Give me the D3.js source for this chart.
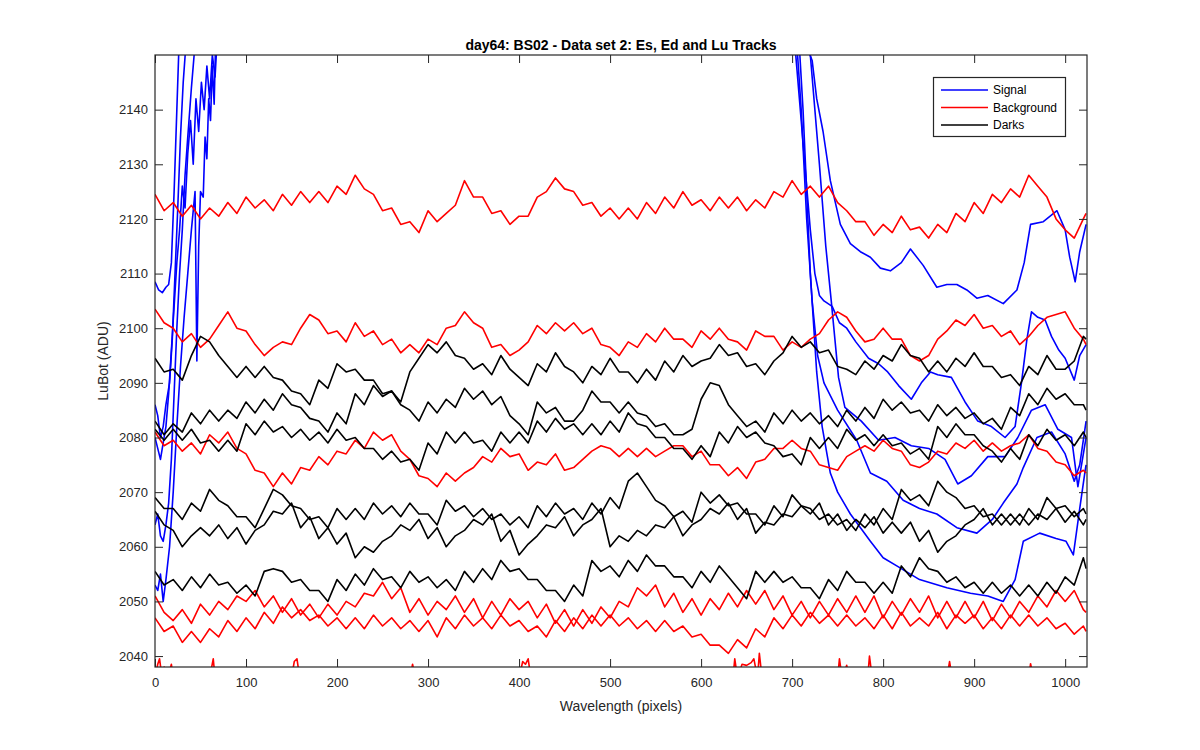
<!DOCTYPE html>
<html><head><meta charset="utf-8">
<script src="https://cdn.jsdelivr.net/npm/d3@7"></script>
<style>
body{margin:0;background:#fff}
svg{display:block}
text{font-family:"Liberation Sans",Arial,Helvetica,sans-serif;fill:#262626}
</style>
</head><body>
<svg id="chart" width="1200" height="750"></svg>
<script>
// ---------- data ----------
const titleText = "day64: BS02 - Data set 2: Es, Ed and Lu Tracks";
const xLabelText = "Wavelength (pixels)";
const yLabelText = "LuBot (ADU)";
const legendNames = ["Signal", "Background", "Darks"];
const legendColors = ["#0000ff", "#ff0000", "#000000"];
const xTicks = [0,100,200,300,400,500,600,700,800,900,1000];
const yTicks = [2040,2050,2060,2070,2080,2090,2100,2110,2120,2130,2140];

// sample positions (pixel index) for background and dark tracks
const pixelIdx = [0,10,20,30,40,50,60,70,80,90,100,110,120,130,140,150,160,170,180,190,
 200,210,220,230,240,250,260,270,280,290,300,310,320,330,340,350,360,370,380,390,
 400,410,420,430,440,450,460,470,480,490,500,510,520,530,540,550,560,570,580,590,
 600,610,620,630,640,650,660,670,680,690,700,710,720,730,740,750,760,770,780,790,
 800,810,820,830,840,850,860,870,880,890,900,910,920,930,940,950,960,970,980,990,
 1000,1010,1020,1023];

// Background tracks
const bg1 = [2124.5,2121.5,2123,2120.5,2122.5,2120,2122,2120.5,2123,2121,
 2124,2122,2123.5,2121.5,2124.5,2122.5,2125,2123,2125,2123,
 2126,2124.5,2128,2125.5,2124.5,2121.5,2122,2119,2119.5,2117.5,
 2121.5,2119.5,2121,2122.5,2127,2124,2124,2121,2121.5,2119,
 2120.5,2120.5,2124,2125,2127.5,2125.5,2125,2122.5,2123,2120.5,
 2122,2120,2122,2120,2123,2121,2124,2122,2125,2122.5,
 2123.5,2121.5,2124,2122,2124,2121.5,2123.5,2122,2125,2124,
 2127,2124.5,2126,2124,2126,2123,2121.5,2119.5,2119.5,2117,
 2119,2117.5,2120.5,2118,2118.5,2116.5,2119,2117.5,2121,2119.5,
 2123,2121,2124.5,2123,2125.5,2124,2128,2126,2124,2120,
 2118,2116.5,2120,2121];
const bg2 = [2103.5,2101,2100,2097.5,2099,2096.5,2098,2100.5,2103,2100,
 2099.5,2097,2095,2096.5,2097.5,2097,2100,2102.5,2101.5,2099,
 2099.5,2097.5,2101,2098.5,2099.5,2097,2098,2095.5,2097,2095.5,
 2098,2097,2100,2100.5,2103,2101,2100,2096.5,2097,2095,
 2096,2097.5,2100.5,2099,2101,2099.5,2101,2099,2100,2097,
 2096.5,2095,2097.5,2096.5,2099,2097.5,2100,2098,2098,2096.5,
 2099.5,2098,2100,2098,2097.5,2096,2099.5,2098.5,2098.5,2096,
 2097.5,2096.5,2098,2099,2101.5,2103,2102,2099.5,2097.5,2098,
 2100,2098,2098,2095,2094,2095,2098,2099.5,2101.5,2100.5,
 2102.5,2100,2100.5,2098.5,2099.5,2097,2098.5,2100.5,2102,2102.5,
 2103,2100,2098,2097];
const bg3 = [2081,2078.5,2079.5,2077.5,2079,2077,2080.5,2079,2081,2078,
 2077,2074,2073.5,2071,2073.5,2071.5,2074.5,2074,2076.5,2075,
 2077.5,2077,2079.5,2078,2081,2079.5,2080.5,2077.5,2076,2073,
 2072.5,2071,2073.5,2072,2073.5,2074.5,2076.5,2075.5,2078,2076.5,
 2077,2074,2075.5,2075,2077,2074,2074.5,2076,2077.5,2078.5,
 2078,2076.5,2078,2076.5,2078,2076.5,2077.5,2078.5,2078.5,2076.5,
 2077.5,2075,2075,2073,2074.5,2072.5,2075.5,2076,2078,2078,
 2079.5,2078,2077.5,2075,2074.5,2074,2076.5,2077.5,2078.5,2077.5,
 2079.5,2078,2077.5,2075,2074.5,2075.5,2077.5,2077,2079,2078,
 2079.5,2077.5,2079,2077.5,2078.5,2079,2080.5,2078,2077.5,2075.5,
 2075,2073,2074,2073.5];
const bg4 = [2051,2048,2046.5,2048.5,2046,2049.5,2047.5,2050,2048.5,2051,
 2050,2052,2049,2051,2048,2050.5,2047.5,2049.5,2047,2049.5,
 2047.5,2050,2049,2051.5,2051,2053.5,2050.5,2052.5,2048,2050.5,
 2047.5,2050,2048.5,2051,2048,2050.5,2047,2050,2047.5,2050.5,
 2048.5,2050,2047,2049.5,2046,2048.5,2045.5,2048.5,2046,2049,
 2047,2050,2049,2052.5,2051,2053,2049,2051.5,2048,2050.5,
 2047.5,2050.5,2048.5,2051.5,2049,2052,2049.5,2052,2048.5,2051,
 2047.5,2050,2047,2050,2047.5,2050.5,2048,2051,2048,2051,
 2047,2050,2047.5,2050.5,2048,2051,2047,2050,2047,2050,
 2047,2050,2046.5,2049.5,2047,2050,2048,2051,2049,2052,
 2050,2052,2048.5,2048];
const bg5 = [2047,2044.5,2045.5,2042.5,2044.5,2042.5,2045,2043.5,2046.5,2044.5,
 2047,2045,2048,2046,2049,2047,2048.5,2046.5,2047.5,2045.5,
 2047,2045,2047,2045,2047.5,2045.5,2047,2045,2046.5,2044.5,
 2046.5,2043.5,2047,2045,2047.5,2045.5,2047,2045,2047.5,2045.5,
 2046.5,2044.5,2045.5,2043.5,2046.5,2044.5,2047,2045,2047.5,2045.5,
 2047.5,2045.5,2047,2045,2046.5,2044.5,2046.5,2044.5,2045.5,2043.5,
 2044,2042,2042,2040.5,2043,2041.5,2045,2043.5,2047,2045,
 2047.5,2045.5,2048,2046,2047.5,2045.5,2047.5,2045.5,2047,2045,
 2047.5,2045,2048,2045.5,2047,2045.5,2048,2045,2047.5,2046,
 2047.5,2045,2047,2045,2047.5,2045.5,2047.5,2045.5,2047,2045,
 2046,2044,2045.5,2044.5];
// background track sitting mostly below the axis: only its spikes show
const bg6X = [0,3,5,7,10,14,18,20,60,64,66,150,153,156,159,280,283,286,400,404,407,410,413,
 635,637,640,645,650,655,658,662,664,667,750,752,755,760,763,783,785,788,870,873,876,960,962,965,1023];
const bg6Y = [2036,2038.5,2039.5,2037,2038,2036,2038.5,2036,2036,2039.5,2036,2036,2039,2039.5,2036,2036,2038.5,2036,2036,2039,2038.5,2039.5,2036,
 2036,2039.5,2036,2038.5,2038.3,2038.8,2039.5,2036,2040.5,2036,2036,2039.5,2036,2038.3,2036,2036,2040,2036,2036,2039,2036,2036,2038.6,2036,2036];

// Dark tracks
const dark1 = [2094.5,2092,2092.5,2090.5,2095,2098.5,2097.5,2095,2093,2091,
 2093,2091,2093,2091,2090.5,2088.5,2088,2086,2090.5,2089,
 2093.5,2092,2092.5,2090.5,2090.5,2088,2088.5,2086.5,2092,2094.5,
 2097,2095.5,2097.5,2095,2094.5,2092.5,2093.5,2091.5,2095,2092.5,
 2091,2089.5,2093.5,2092,2095.5,2093,2092,2090,2093,2091.5,
 2094.5,2092,2092,2090,2092.5,2090.5,2094,2092,2095,2093,
 2094,2094.5,2097,2095,2095.5,2093,2093.5,2091.5,2094,2095.5,
 2098.5,2096.5,2097.5,2095.5,2096,2093,2092.5,2091.5,2094,2092.5,
 2095,2094,2097,2095,2094.5,2092,2094,2092,2094.5,2093,
 2095.5,2093,2093,2091,2091.5,2089.5,2093,2091.5,2095,2092.5,
 2092.5,2094,2098.5,2098];
const dark2 = [2083,2080.5,2082.5,2081,2084.5,2082.5,2085,2083,2085,2083.5,
 2086.5,2084.5,2087,2085,2088,2086,2085.5,2083.5,2083,2081,
 2084.5,2082.5,2088,2086,2089.5,2087.5,2088.5,2086,2085,2083,
 2086.5,2084.5,2087,2085.5,2089,2087,2088.5,2086,2087.5,2084,
 2082.5,2080.5,2086.5,2084.5,2085.5,2083,2083,2085,2088.5,2086.5,
 2086.5,2084.5,2086.5,2084.5,2084,2082,2082.5,2080.5,2080.5,2081.5,
 2087,2090,2089.5,2086,2084,2082,2083,2081,2084.5,2082.5,
 2085,2083,2084.5,2082.5,2084,2082,2085,2083,2085.5,2083.5,
 2087,2085,2086.5,2084.5,2085,2083,2086,2084,2085.5,2083.5,
 2084.5,2082.5,2083.5,2081.5,2085.5,2084,2088,2086,2089,2087,
 2088,2086,2086,2085];
const dark3 = [2081.5,2079.5,2081.5,2079.5,2081.5,2079,2079.5,2077.5,2079.5,2077.5,
 2082.5,2080.5,2083,2081,2082,2080,2081.5,2079.5,2081,2079,
 2081.5,2079.5,2080,2078,2078,2076,2077.5,2075.5,2076,2074,
 2079,2077,2081,2079,2081,2079,2079.5,2077.5,2081,2079,
 2081,2079,2083,2081,2083.5,2081.5,2082.5,2080.5,2082.5,2080.5,
 2083,2081,2084.5,2082.5,2082,2080,2080,2078,2078,2076,
 2078.5,2076.5,2081,2079,2082,2080,2081,2079,2078.5,2076.5,
 2077,2075,2080,2078,2080,2078,2081.5,2079.5,2080.5,2078.5,
 2080.5,2078.5,2079,2077,2078,2076,2082,2080,2082.5,2080.5,
 2080.5,2078.5,2077.5,2075.5,2078,2076,2080.5,2078.5,2081.5,2079.5,
 2080.5,2078.5,2081,2080];
const dark4 = [2069,2067,2067,2065,2068,2066.5,2070.5,2068.5,2067.5,2065.5,
 2065.5,2063.5,2067,2070.5,2069.5,2067.5,2067,2065,2065.5,2063.5,
 2067,2065,2067,2065,2068,2066,2067.5,2065.5,2068,2066,
 2066,2064,2068.5,2066.5,2067.5,2065.5,2067,2065,2066,2064,
 2065.5,2063.5,2067.5,2065.5,2068,2066,2067,2065,2068,2066,
 2069,2067,2072,2073.5,2071,2068.5,2067.5,2065.5,2066.5,2064.5,
 2070,2068,2069.5,2067.5,2068,2066,2066,2064,2067.5,2065.5,
 2069.5,2067.5,2067,2065,2066,2064,2065,2063,2066,2064,
 2067,2065,2070.5,2068.5,2069.5,2067.5,2072,2070,2069,2067,
 2067.5,2065.5,2066,2064,2066,2064,2067,2065,2069,2067,
 2067.5,2065.5,2067,2066];
const dark5 = [2066.5,2064,2063,2060,2062,2063.5,2062,2064,2061.5,2063.5,
 2060.5,2063,2064,2066.5,2066,2068,2063.5,2065.5,2061.5,2063.5,
 2060.5,2062.5,2058,2060,2059,2061,2062,2064,2063,2065,
 2061.5,2063.5,2060,2062,2063,2065,2064,2066,2061,2063,
 2058.5,2060.5,2062,2064,2063.5,2065.5,2062,2064,2065,2067,
 2060,2062,2061,2063,2062,2064,2063.5,2065.5,2062,2064,
 2065,2067,2066,2068,2065,2067,2062.5,2064.5,2064,2066,
 2065.5,2067.5,2066,2068,2064,2066,2063,2065,2063.5,2065.5,
 2062.5,2064.5,2062.5,2064.5,2061,2063,2059,2061,2062,2064,
 2065,2067,2064,2066,2064,2066,2064,2066,2065,2067,
 2064.5,2066.5,2064,2065];
const dark6 = [2055.5,2053,2054,2052,2054.5,2052.5,2055,2053,2053.5,2051.5,
 2053,2051,2055.5,2056,2055.5,2053.5,2054,2052,2052,2050,
 2054,2052,2055,2053,2056,2054,2054.5,2052.5,2055.5,2053.5,
 2054.5,2052.5,2054,2052,2055.5,2053.5,2056,2054,2057.5,2055.5,
 2056,2054,2054,2052,2052,2050,2053,2051,2057.5,2055.5,
 2056.5,2054.5,2057.5,2055.5,2058.5,2056.5,2056.5,2054.5,2054.5,2052.5,
 2055.5,2053.5,2056.5,2054.5,2052.5,2050.5,2055.5,2053.5,2055.5,2053.5,
 2054.5,2052.5,2052.5,2050.5,2054,2052,2055.5,2053.5,2053.5,2051.5,
 2053.5,2051.5,2056.5,2054.5,2058,2056,2055.5,2053.5,2054.5,2052.5,
 2053.5,2051.5,2053.5,2051.5,2053,2051,2053,2051,2053.5,2051.5,
 2054.5,2053,2058,2056];

// Signal tracks (leave the top of the axes between about pixel 30 and 700)
const sig1X = [0,4,8,12,15,18,21,24,27,100,650,715,722,727,734,742,753,764,775,786,797,808,820,830,844,859,870,881,892,903,915,932,947,955,962,976,991,1000,1005,1011,1016,1023];
const sig1Y = [2108.5,2107,2106.5,2107.5,2108,2112,2125,2140,2155,2400,2400,2152,2149,2142,2136,2127,2119,2115.5,2114,2113,2111,2110.5,2112,2114.5,2111.5,2107.5,2108,2108,2107,2105.5,2106,2104.5,2107,2112,2119,2119.5,2121.5,2118,2113,2108.5,2114,2119];
const sig2X = [0,3,6,9,12,16,19,22,25,28,31,34,100,650,700,705,710,715,720,725,730,735,744,752,760,770,784,795,805,817,831,842,852,860,875,890,904,919,934,945,952,958,963,970,978,985,993,1000,1010,1016,1023];
const sig2Y = [2086,2084,2080,2082,2086,2090,2098,2110,2122,2135,2145,2152,2400,2400,2158,2148,2138,2128,2118,2110,2106,2105,2104,2101,2100,2097.5,2094.5,2093.5,2092,2089.5,2087,2090,2092,2091.5,2091,2086.5,2083,2082,2080,2082,2090,2098,2103,2102,2101.5,2098.5,2096,2094.5,2090.5,2095,2097];
const sig3X = [0,3,6,9,12,15,18,21,24,27,30,33,36,40,44,100,650,700,720,730,737,743,751,758,776,795,813,831,850,868,882,897,915,934,948,963,978,992,1007,1014,1021,1023];
const sig3Y = [2064,2066,2062,2061,2064,2068,2076,2088,2100,2110,2118,2128,2135,2144,2152,2400,2400,2175,2150,2130,2115,2105,2091,2085.5,2083,2079.5,2080,2078.5,2078,2076,2071.5,2073,2076.5,2076.5,2080,2085,2086,2081.5,2080,2071,2078,2080];
const sig4X = [0,3,6,9,12,16,20,24,28,32,36,40,44,46,48,50,53,55,57,59,61,63,65,67,100,650,700,710,716,722,728,735,750,771,786,804,822,840,859,881,903,920,932,947,954,969,985,1000,1010,1016,1023];
const sig4Y = [2053,2052,2055,2050,2054,2060,2070,2082,2093,2102,2110,2118,2125,2094,2115,2125,2124,2135,2131,2142,2138,2148,2141,2155,2400,2400,2165,2140,2120,2105,2095,2090,2085,2079.5,2073.5,2072,2068.5,2067,2066,2063.5,2062.5,2065,2068,2071.5,2074.5,2080,2081,2077,2072,2075,2083];
const sig5X = [0,3,6,9,12,15,18,21,24,27,30,33,36,39,42,45,48,51,54,57,60,63,66,70,100,650,705,712,716,720,727,733,742,750,764,786,800,815,840,870,896,915,932,945,954,972,990,1001,1009,1016,1022,1023];
const sig5Y = [2080,2078,2076,2079,2082,2088,2096,2104,2112,2118,2126,2122,2132,2138,2130,2142,2136,2145,2140,2148,2142,2150,2146,2158,2400,2400,2160,2140,2125,2110,2092,2082,2073.5,2070,2066,2061,2058,2056.5,2054,2052.5,2051.5,2051,2050,2054,2061,2062.5,2061.5,2061,2058.5,2067,2074,2075];

// ---------- layout ----------
const svg = d3.select("#chart");
const L = 155, R = 1087, T = 55, B = 667;
const x = d3.scaleLinear().domain([0, 1024]).range([L, R]);
const y = d3.scaleLinear().domain([2038, 2150]).range([B, T]);
const axisColor = "#262626";

svg.append("defs").append("clipPath").attr("id", "plotclip")
  .append("rect").attr("x", L).attr("y", T).attr("width", R - L).attr("height", B - T);

const plot = svg.append("g").attr("clip-path", "url(#plotclip)");
const line = d3.line().x(d => x(d[0])).y(d => y(d[1]));
function draw(xs, ys, color) {
  plot.append("path").datum(xs.map((v, i) => [v, ys[i]]))
    .attr("d", line).attr("fill", "none").attr("stroke", color)
    .attr("stroke-width", 1.6).attr("stroke-linejoin", "round");
}

const signals = [[sig1X, sig1Y], [sig2X, sig2Y], [sig3X, sig3Y], [sig4X, sig4Y], [sig5X, sig5Y]];
signals.forEach(s => draw(s[0], s[1], legendColors[0]));
[bg1, bg2, bg3, bg4, bg5].forEach(s => draw(pixelIdx, s, legendColors[1]));
draw(bg6X, bg6Y, legendColors[1]);
[dark1, dark2, dark3, dark4, dark5, dark6].forEach(s => draw(pixelIdx, s, legendColors[2]));

// ---------- axes ----------
const tickLen = 8;
const fmt = d3.format("d");
const gx = svg.append("g").attr("transform", `translate(0,${B})`)
  .call(d3.axisBottom(x).tickValues(xTicks).tickFormat(fmt).tickSize(-tickLen).tickPadding(11));
const gxt = svg.append("g").attr("transform", `translate(0,${T})`)
  .call(d3.axisTop(x).tickValues(xTicks).tickFormat("").tickSize(-tickLen));
const gy = svg.append("g").attr("transform", `translate(${L},0)`)
  .call(d3.axisLeft(y).tickValues(yTicks).tickFormat(fmt).tickSize(-tickLen).tickPadding(7));
const gyr = svg.append("g").attr("transform", `translate(${R},0)`)
  .call(d3.axisRight(y).tickValues(yTicks).tickFormat("").tickSize(-tickLen));
[gx, gxt, gy, gyr].forEach(g => {
  g.select(".domain").remove();
  g.selectAll(".tick line").attr("stroke", axisColor).attr("stroke-width", 1);
  g.selectAll(".tick text").attr("fill", axisColor)
    .style("font-size", "13px").style("font-family", '"Liberation Sans", Arial, sans-serif');
});
svg.append("rect").attr("x", L).attr("y", T).attr("width", R - L).attr("height", B - T)
  .attr("fill", "none").attr("stroke", axisColor).attr("stroke-width", 1.2);

// ---------- labels ----------
svg.append("text").attr("x", (L + R) / 2).attr("y", 50).attr("text-anchor", "middle")
  .style("font-size", "14px").style("font-weight", "bold").style("fill", "#000").text(titleText);
svg.append("text").attr("x", (L + R) / 2).attr("y", 711).attr("text-anchor", "middle")
  .style("font-size", "14px").text(xLabelText);
svg.append("text").attr("transform", `translate(108,${(T + B) / 2}) rotate(-90)`)
  .attr("text-anchor", "middle").style("font-size", "14px").text(yLabelText);

// ---------- legend ----------
const lg = svg.append("g");
lg.append("rect").attr("x", 933.5).attr("y", 77.5).attr("width", 132).attr("height", 59)
  .attr("fill", "#fff").attr("stroke", axisColor).attr("stroke-width", 1.2);
legendNames.forEach((n, i) => {
  const yy = 90 + i * 17.5;
  lg.append("line").attr("x1", 941).attr("x2", 988).attr("y1", yy).attr("y2", yy)
    .attr("stroke", legendColors[i]).attr("stroke-width", 1.6);
  lg.append("text").attr("x", 993).attr("y", yy).attr("dy", "0.35em")
    .style("font-size", "12px").style("fill", "#000").text(n);
});
</script>
</body></html>
